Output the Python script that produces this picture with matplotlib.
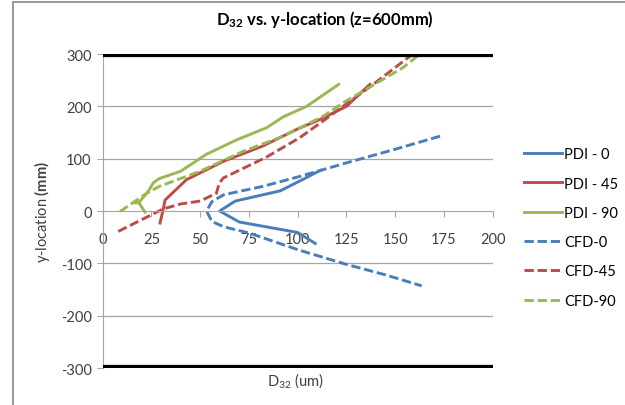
import matplotlib.pyplot as plt
from matplotlib.patches import Rectangle

plt.rcParams["font.family"] = ["Lato", "DejaVu Sans"]
plt.rcParams["mathtext.fontset"] = "custom"
plt.rcParams["mathtext.rm"] = "Lato"
plt.rcParams["mathtext.bf"] = "Lato:bold"
plt.rcParams["mathtext.it"] = "Lato:italic"
plt.rcParams["mathtext.default"] = "regular"
plt.rcParams["axes.unicode_minus"] = False

# D32 (um) against y-location (mm), measured (PDI) and simulated (CFD)
pdi_0_x = [109, 100, 70, 60, 68, 91, 103, 111.5]
pdi_0_y = [-62, -41, -21, 0, 19, 38.5, 61, 77.5]

pdi_45_x = [29.4, 31, 32, 43, 62, 82, 99.5, 111.5, 125, 137]
pdi_45_y = [-23, 2.5, 21, 60, 95, 124, 156, 175, 200, 242]

pdi_90_x = [21.7, 18.5, 16, 18.5, 23.4, 26, 29, 40, 53, 68.7, 84, 92.6, 104.6, 121]
pdi_90_y = [-2, 16, 16, 16, 37.7, 54, 62, 76, 108, 136, 159, 180, 200, 242]

cfd_0_x = [173, 150, 125, 101, 82, 62, 56, 53.3, 56, 62, 75, 101, 125, 145, 163.6]
cfd_0_y = [143, 118, 92, 66, 47, 31, 18, 0, -20, -30, -42, -75, -102, -122, -143]

cfd_45_x = [8, 31, 40, 50, 58.3, 59.8, 61.8, 69, 84, 101, 113, 138, 158]
cfd_45_y = [-39, 4, 13.5, 19, 34, 53, 63, 76, 103, 140, 172, 240, 297]

cfd_90_x = [8.9, 22.6, 29, 50, 72, 92.6, 113, 123.4, 144, 154, 162.7]
cfd_90_y = [-1, 34, 47, 76, 114, 143, 181, 207, 252, 274, 300]

BLUE = "#4A7EBB"
RED = "#BE4B48"
GREEN = "#98B954"

fig = plt.figure(figsize=(6.25, 4.06), dpi=100)
ax = fig.add_axes([0.1643, 0.0911, 0.624, 0.7734])

lw = 2.1
dash = [3.2, 1.3]
ax.plot(pdi_0_x, pdi_0_y, color=BLUE, lw=lw, label="PDI - 0")
ax.plot(pdi_45_x, pdi_45_y, color=RED, lw=lw, label="PDI - 45")
ax.plot(pdi_90_x, pdi_90_y, color=GREEN, lw=lw, label="PDI - 90")
ax.plot(cfd_0_x, cfd_0_y, color=BLUE, lw=lw, dashes=dash, label="CFD-0")
ax.plot(cfd_45_x, cfd_45_y, color=RED, lw=lw, dashes=dash, label="CFD-45")
ax.plot(cfd_90_x, cfd_90_y, color=GREEN, lw=lw, dashes=dash, label="CFD-90")

# thick bounding lines at the wall positions
ax.axhline(300, color="black", lw=4.5, zorder=5)
ax.axhline(-300, color="black", lw=4.5, zorder=5)

ax.set_xlim(0, 200)
ax.set_ylim(-300, 300)
ax.set_xticks(range(0, 201, 25))
ax.set_yticks(range(-300, 301, 100))
for y in (-200, -100, 100, 200):
    ax.axhline(y, color="#A6A6A6", lw=0.9, zorder=0)

for side in ("top", "right"):
    ax.spines[side].set_visible(False)
ax.spines["bottom"].set_position(("data", 0))
ax.spines["bottom"].set_color("#A6A6A6")
ax.spines["left"].set_color("#A6A6A6")
ax.tick_params(axis="x", direction="out", length=4, pad=11, colors="#A6A6A6",
               labelcolor="#404040", labelsize=10.5)
ax.tick_params(axis="y", direction="out", length=4, pad=4, colors="#A6A6A6",
               labelcolor="#404040", labelsize=10.5)

fig.text(0.52, 0.952, r"D$_{32}$ vs. y-location (z=600mm)", ha="center", va="center",
         fontsize=12, fontweight="bold", color="black")
ax.set_ylabel(r"y-location $\mathbf{(mm)}$", fontsize=10.5, color="#404040", labelpad=6)
fig.text(0.472, 0.063, r"D$_{32}$ (um)", ha="center", va="center", fontsize=10.5,
         color="#404040")

ax.legend(loc="upper left", bbox_to_anchor=(0.838, 0.635), bbox_transform=fig.transFigure,
          frameon=False, fontsize=10.5, handlelength=2.6, handletextpad=0.15,
          labelspacing=1.05, borderaxespad=0, borderpad=0)

# chart area outline
fig.patches.append(Rectangle((12.5 / 625, -0.1), 1.2, 1.1 - 2.5 / 406,
                             transform=fig.transFigure, fill=False,
                             edgecolor="#868686", lw=1.2))

fig.savefig("out.png", dpi=100)
